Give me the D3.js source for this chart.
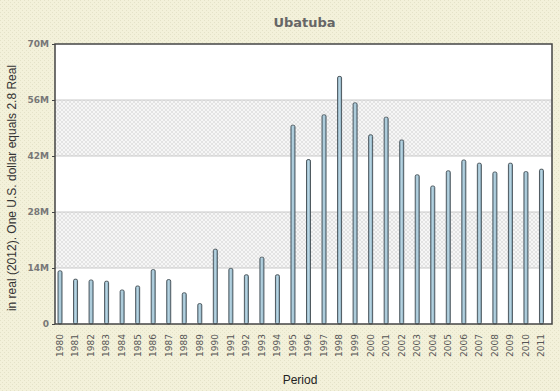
<!DOCTYPE html>
<html><head><meta charset="utf-8">
<script src="https://cdn.jsdelivr.net/npm/d3@7"></script>
<style>body{margin:0;background:#fff}svg{display:block}</style>
</head><body>
<script>
const years = ["1980","1981","1982","1983","1984","1985","1986","1987","1988","1989","1990","1991","1992","1993","1994","1995","1996","1997","1998","1999","2000","2001","2002","2003","2004","2005","2006","2007","2008","2009","2010","2011"];
const values = [13.3,11.2,11.0,10.7,8.5,9.5,13.6,11.1,7.8,5.1,18.7,13.9,12.3,16.7,12.3,49.7,41.1,52.3,61.9,55.3,47.3,51.7,46.0,37.3,34.5,38.3,41.0,40.2,38.0,40.2,38.1,38.7].map(v=>v*1e6);
const yTicks = [0,14e6,28e6,42e6,56e6,70e6];
const yTickLabels = ["0","14M","28M","42M","56M","70M"];
const title = "Ubatuba";
const xTitle = "Period";
const yTitle = "in real (2012). One U.S. dollar equals 2.8 Real";

const W=560,H=391;
const m={l:55,r:8,t:44,b:67};
const svg=d3.select("body").append("svg").attr("width",W).attr("height",H);
const defs=svg.append("defs");
const bgp=defs.append("pattern").attr("id","bgpat").attr("width",4).attr("height",4).attr("patternUnits","userSpaceOnUse");
bgp.append("rect").attr("width",4).attr("height",4).attr("fill","#f3f1da");
bgp.append("rect").attr("width",1).attr("height",1).attr("x",0).attr("y",0).attr("fill","#e4e2c8");
bgp.append("rect").attr("width",1).attr("height",1).attr("x",2).attr("y",2).attr("fill","#e4e2c8");
const hp=defs.append("pattern").attr("id","hatch").attr("width",4).attr("height",4).attr("patternUnits","userSpaceOnUse");
hp.append("rect").attr("width",4).attr("height",4).attr("fill","#f6f6f6");
hp.append("path").attr("d","M0,0L4,4M4,0L0,4").attr("stroke","#dedede").attr("stroke-width",0.8);
const grad=defs.append("linearGradient").attr("id","barg").attr("x1",0).attr("x2",1).attr("y1",0).attr("y2",0);
grad.append("stop").attr("offset","0%").attr("stop-color","#8fb3c6");
grad.append("stop").attr("offset","50%").attr("stop-color","#b9d6e3");
grad.append("stop").attr("offset","100%").attr("stop-color","#7ea3b7");

svg.append("rect").attr("width",W).attr("height",H).attr("fill","url(#bgpat)");

const x=d3.scaleBand().domain(years).range([m.l,W-m.r]).paddingInner(0).paddingOuter(0);
const y=d3.scaleLinear().domain([0,70e6]).range([H-m.b,m.t]);

const g=svg.append("g");
g.append("rect").attr("x",m.l).attr("y",m.t).attr("width",W-m.r-m.l).attr("height",H-m.b-m.t).attr("fill","#fff");
for(let i=0;i<yTicks.length-1;i++){
  if(i%2===1){
    g.append("rect").attr("x",m.l).attr("width",W-m.r-m.l)
     .attr("y",y(yTicks[i+1])).attr("height",y(yTicks[i])-y(yTicks[i+1])).attr("fill","url(#hatch)");
  }
}
g.selectAll(".grid").data(yTicks.slice(1,-1)).enter().append("line")
 .attr("x1",m.l).attr("x2",W-m.r).attr("y1",d=>y(d)).attr("y2",d=>y(d))
 .attr("stroke","#c8c8c8").attr("stroke-width",1);

const bw=4;
g.selectAll(".bar").data(values).enter().append("rect")
 .attr("x",(d,i)=>x(years[i])+3)
 .attr("y",d=>y(d)).attr("width",bw).attr("height",d=>y(0)-y(d))
 .attr("rx",1.5).attr("ry",1.5)
 .attr("fill","url(#barg)").attr("stroke","#4f5a60").attr("stroke-width",1);

g.append("rect").attr("x",m.l).attr("y",m.t).attr("width",W-m.r-m.l).attr("height",H-m.b-m.t)
 .attr("fill","none").attr("stroke","#444").attr("stroke-width",1.5);

const ya=svg.append("g").attr("transform",`translate(${m.l},0)`)
 .call(d3.axisLeft(y).tickValues(yTicks).tickFormat((d,i)=>yTickLabels[i]).tickSize(3));
ya.select(".domain").remove();
ya.selectAll("line").attr("stroke","#444");
ya.selectAll("text").attr("fill","#777").attr("font-family","DejaVu Sans").attr("font-size","9px").attr("font-weight","bold");

const xa=svg.append("g").attr("transform",`translate(0,${H-m.b})`)
 .call(d3.axisBottom(x).tickSize(0));
xa.select(".domain").remove();
xa.selectAll("text").attr("fill","#555").attr("font-family","DejaVu Sans").attr("font-size","9px")
 .attr("transform",(d)=>`translate(${-x.bandwidth()/2+5},0) rotate(-90)`)
 .attr("text-anchor","end").attr("dx","-10px").attr("dy","0.32em").attr("y",0).attr("x",0);

svg.append("text").attr("x",(m.l+W-m.r)/2+1).attr("y",27).attr("text-anchor","middle")
 .attr("font-family","DejaVu Sans").attr("font-weight","bold").attr("font-size","13px").attr("fill","#666").text(title);
svg.append("text").attr("x",300).attr("y",384).attr("text-anchor","middle")
 .attr("font-family","Liberation Sans").attr("font-size","12px").attr("fill","#222").text(xTitle);
svg.append("text").attr("transform",`translate(16,${(m.t+H-m.b)/2+4}) rotate(-90)`).attr("text-anchor","middle")
 .attr("font-family","Liberation Sans").attr("font-size","12px").attr("fill","#333").text(yTitle);
</script>
</body></html>
